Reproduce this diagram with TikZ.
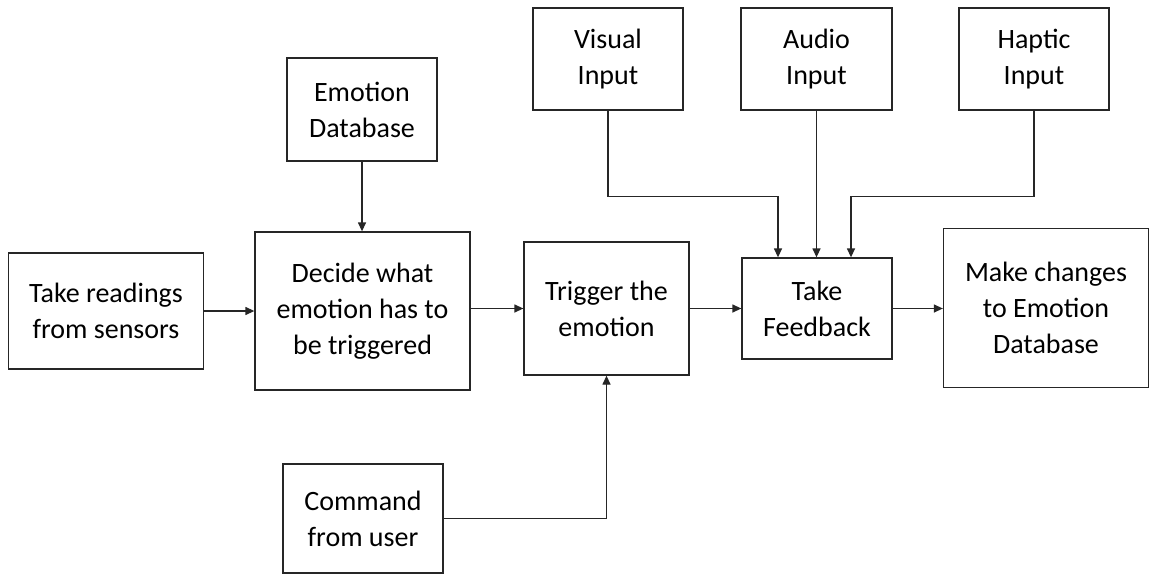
\documentclass[tikz,border=0pt]{standalone}
\usepackage{fontspec}
\setmainfont{Carlito}
\usetikzlibrary{arrows.meta,calc}
\begin{document}
\begin{tikzpicture}[x=1pt,y=-1pt,
  box/.style={draw=black!85,line width=1.3pt,align=center,inner sep=0pt,
    font=\fontsize{28}{36}\selectfont},
  arr/.style={draw=black!85,line width=1.3pt,-{Triangle[length=9pt,width=8pt]}},
  line/.style={draw=black!85,line width=1.3pt}]
\fill[white] (0,0) rectangle (1151,575);
\useasboundingbox (0,0) rectangle (1151,575);
\node[box,minimum width=195pt,minimum height=116pt] (readings) at (106,311) {Take readings\\from sensors};
\node[box,minimum width=150pt,minimum height=103pt] (emodb) at (362,109.5) {Emotion\\Database};
\node[box,minimum width=215pt,minimum height=158pt] (decide) at (362.5,311) {Decide what\\emotion has to\\be triggered};
\node[box,minimum width=165pt,minimum height=133pt] (trigger) at (606.5,308.5) {Trigger the\\emotion};
\node[box,minimum width=150pt,minimum height=102pt] (visual) at (608,59) {Visual\\Input};
\node[box,minimum width=151pt,minimum height=102pt] (audio) at (816.5,59) {Audio\\Input};
\node[box,minimum width=150pt,minimum height=102pt] (haptic) at (1034,59) {Haptic\\Input};
\node[box,minimum width=150pt,minimum height=101pt] (feedback) at (817,308.5) {Take\\Feedback};
\node[box,minimum width=205pt,minimum height=159pt] (make) at (1046,308) {Make changes\\to Emotion\\Database};
\node[box,minimum width=160pt,minimum height=109pt] (command) at (363,518.5) {Command\\from user};
\draw[arr] (readings.east) -- (readings.east -| decide.west);
\draw[arr] (decide.east |- trigger.west) -- (trigger.west);
\draw[arr] (trigger.east) -- (feedback.west);
\draw[arr] (feedback.east) -- (feedback.east -| make.west);
\draw[arr] (emodb.south) -- (emodb.south |- decide.north);
\draw[arr] (visual.south) -- ++(0,86) -| ([xshift=-39pt]feedback.north);
\draw[arr] (audio.south) -- (audio.south |- feedback.north);
\draw[arr] (haptic.south) -- ++(0,86) -| ([xshift=34pt]feedback.north);
\draw[arr] (command.east) -| (trigger.south);
\end{tikzpicture}
\end{document}
